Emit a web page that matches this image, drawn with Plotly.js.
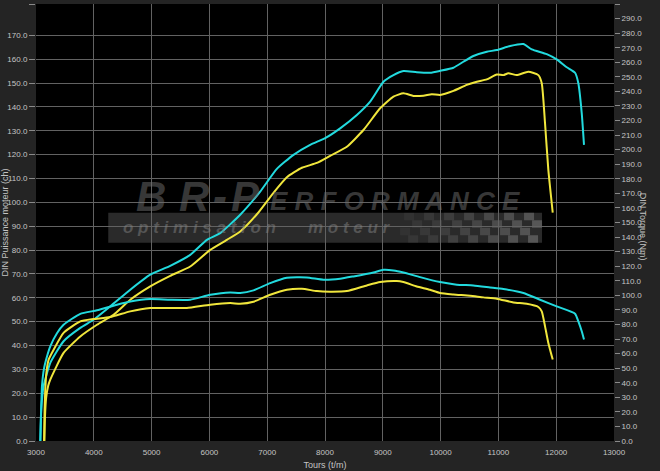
<!DOCTYPE html>
<html><head><meta charset="utf-8">
<script src="https://cdn.plot.ly/plotly-3.0.1.min.js"></script>
<style>html,body{margin:0;padding:0;background:#242424;}#chart{width:660px;height:471px;}</style>
</head><body><div id="chart"></div>
<script>
// ---- Data ----
// Power (ch), cyan run
const rpmPowerCyan = [3075,3080,3090,3110,3131,3247,3477,3766,3996,4285,4631,4977,5322,5668,5957,6187,6533,6879,7167,7455,7743,8003,8262,8551,8781,9011,9184,9357,9588,9818,9991,10222,10394,10567,10799,10972,11202,11432,11577,11836,12009,12182,12326,12383,12442,12481];
const powerCyan    = [0,6,13,19,23,32.7,41.8,47.4,50.8,56.4,63.4,69.7,73.4,78.0,84.3,87.1,94.8,104.5,114.0,119.9,124.1,126.9,131.0,136.6,142.2,150.5,153.3,155.0,154.5,154.3,155.1,156.4,158.9,161.3,163.1,163.8,165.5,166.3,164.1,162.1,159.9,156.6,154.3,149.9,137.3,124.1];
// Power (ch), yellow run
const rpmPowerYellow = [3145,3155,3175,3210,3247,3477,3766,4055,4342,4631,4977,5322,5668,6014,6303,6533,6822,7109,7340,7600,7859,8089,8378,8665,8954,9184,9357,9530,9703,9848,9991,10222,10453,10626,10799,10972,11086,11172,11317,11518,11691,11750,11807,11864,11940];
const powerYellow    = [0,10,18,23,25.7,36.9,43.8,48.7,52.9,59.2,64.8,69.2,73.1,80.1,84.3,87.8,95.0,104.0,110.5,114.5,116.5,119.5,123.3,130.3,139.4,144.3,145.7,144.6,144.7,145.3,145.0,146.7,149.2,150.5,151.5,153.6,153.3,154.1,153.3,154.7,153.3,149.9,133.1,113.6,95.7];
// Torque (Nm), cyan run
const rpmTorqueCyan = [3075,3082,3090,3104,3140,3190,3247,3363,3477,3766,4055,4401,4631,4977,5322,5668,6014,6360,6533,6763,7052,7340,7686,7973,8262,8492,8838,9011,9184,9357,9645,9991,10279,10567,10856,11086,11432,11721,12009,12326,12383,12442,12481];
const torqueCyan    = [0,10,22,38,50,58,65,74,79.8,87.3,89.7,93.6,95.8,97.5,97.0,97.0,100.4,102.0,101.6,103.4,108.4,112.1,112.3,110.7,111.4,113.0,115.7,117.5,117.1,115.7,112.5,109.1,107.3,106.8,105.4,104.3,101.6,97.0,92.4,87.4,82.1,75.3,69.6];
// Torque (Nm), yellow run
const rpmTorqueYellow = [3140,3148,3160,3180,3220,3305,3477,3766,3996,4285,4631,4977,5322,5611,6014,6360,6533,6763,7052,7340,7600,7859,8089,8378,8724,8954,9242,9357,9588,9818,9991,10222,10510,10740,10972,11259,11490,11691,11750,11807,11864,11940];
const torqueYellow    = [0,20,35,47,56,62.7,74.2,82.1,83.7,85.1,89.0,91.3,91.3,91.3,93.6,94.7,94.2,95.6,100.4,103.8,104.5,102.9,102.5,102.9,106.8,109.1,109.8,109.1,106.1,103.8,101.6,100.6,99.7,98.6,97.7,95.1,94.2,92.0,89.0,78.7,67.3,55.9];

// Axis ticks / labels
const xTicks = [3000,4000,5000,6000,7000,8000,9000,10000,11000,12000,13000];
const leftTicks = [0,10,20,30,40,50,60,70,80,90,100,110,120,130,140,150,160,170,183.1];
const rightTicks = [0,10,20,30,40,50,60,70,80,90,100,110,120,130,140,150,160,170,180,190,200,210,220,230,240,250,260,270,280,290,300];
const xTitle = 'Tours (t/m)';
const leftTitle = 'DIN Puissance moteur (ch)';
const rightTitle = 'DIN Torque (Nm)';
const wmBig = 'BR-P';
const wmRest = 'E R F O R M A N C E';
const wmSub1 = 'o p t i m i s a t i o n';
const wmSub2 = 'm o t e u r';

// ---- Styles ----
const CYAN = '#22dade';
const YELLOW = '#f0e63c';
const TXT = '#c4c4c4';
const FONT = 'Liberation Sans, Arial, sans-serif';

// plot-area pixel helpers for decorative watermark layout
const PX = p => (p - 35.7) / 578.3;
const PY = p => (441.5 - p) / 437.5;

const lineStyle = c => ({color: c, width: 2, shape: 'spline', smoothing: 0.5});
const traces = [
  {x: rpmPowerCyan, y: powerCyan, name: 'Puissance', type: 'scatter', mode: 'lines', line: lineStyle(CYAN), yaxis: 'y', hoverinfo: 'skip'},
  {x: rpmPowerYellow, y: powerYellow, name: 'Puissance', type: 'scatter', mode: 'lines', line: lineStyle(YELLOW), yaxis: 'y', hoverinfo: 'skip'},
  {x: rpmTorqueCyan, y: torqueCyan, name: 'Couple', type: 'scatter', mode: 'lines', line: lineStyle(CYAN), yaxis: 'y2', hoverinfo: 'skip'},
  {x: rpmTorqueYellow, y: torqueYellow, name: 'Couple', type: 'scatter', mode: 'lines', line: lineStyle(YELLOW), yaxis: 'y2', hoverinfo: 'skip'}
];

// watermark decorations
const shapes = [
  {type: 'rect', xref: 'paper', yref: 'paper', x0: PX(108), x1: PX(542), y0: PY(243), y1: PY(213),
   fillcolor: '#2a2a2a', line: {width: 0}, layer: 'below'}
];
for (let r = 0; r < 4; r++) {
  for (let c = 0; c < 14; c++) {
    if ((c + r) % 2) continue;
    const x0 = 404 + c * 10 - r * 2, y0 = 213 + r * 7.5;
    shapes.push({type: 'rect', xref: 'paper', yref: 'paper', x0: PX(x0), x1: PX(Math.min(x0 + 10, 542)), y0: PY(y0 + 7.5), y1: PY(y0),
      fillcolor: '#565656', opacity: 0.2 + 0.8 * c / 13, line: {width: 0}, layer: 'below'});
  }
}
const WM = 'rgba(110,110,110,0.5)';
const WM2 = 'rgba(128,128,128,0.5)';
const annotations = [
  {xref: 'paper', yref: 'paper', x: PX(650), y: PY(227), text: rightTitle, textangle: 90, showarrow: false,
   font: {family: FONT, size: 9, color: TXT}},
  {xref: 'paper', yref: 'paper', x: PX(268), xanchor: 'left', y: PY(201), text: wmRest, showarrow: false,
   font: {family: FONT, size: 26, weight: 900, style: 'italic', color: WM}},
  {xref: 'paper', yref: 'paper', x: PX(121), xanchor: 'left', y: PY(228), text: wmSub1, showarrow: false,
   font: {family: FONT, size: 17, weight: 700, style: 'italic', color: WM2}},
  {xref: 'paper', yref: 'paper', x: PX(306), xanchor: 'left', y: PY(228), text: wmSub2, showarrow: false,
   font: {family: FONT, size: 17, weight: 700, style: 'italic', color: WM2}}
];
const bigCenters = [134, 177, 211, 245];
wmBig.split('').forEach((ch, i) => annotations.push({xref: 'paper', yref: 'paper', x: PX(bigCenters[i]), y: PY(197), text: ch, showarrow: false,
  font: {family: FONT, size: 42, weight: 900, style: 'italic', color: WM}}));

const layout = {
  width: 660, height: 471,
  margin: {l: 36, r: 46, t: 4, b: 30, pad: 0},
  paper_bgcolor: '#242424', plot_bgcolor: '#000000',
  showlegend: false,
  font: {family: FONT, size: 8, color: TXT},
  xaxis: {range: [3000, 13000], tickvals: xTicks, tickformat: 'd', showgrid: true, gridcolor: '#626262', gridwidth: 1,
    zeroline: false, showline: false, ticks: '', ticklabelstandoff: 5, tickfont: {size: 8, color: TXT},
    title: {text: xTitle, font: {size: 9, color: TXT}, standoff: 5}},
  yaxis: {range: [0, 183.1], tickvals: leftTicks, tickformat: '.1f', showgrid: true, gridcolor: '#626262', gridwidth: 1,
    zeroline: false, showline: false, ticks: 'outside', ticklen: 6, tickcolor: '#8a8a8a', tickfont: {size: 8, color: TXT},
    title: {text: leftTitle, font: {size: 9, color: TXT}, standoff: 4}},
  yaxis2: {range: [0, 300], overlaying: 'y', side: 'right', tickvals: rightTicks, tickformat: '.1f', showgrid: false,
    zeroline: false, showline: false, ticks: 'outside', ticklen: 5, tickcolor: '#8a8a8a', tickfont: {size: 8, color: TXT}},
  shapes: shapes,
  annotations: annotations
};

Plotly.newPlot('chart', traces, layout, {displayModeBar: false, staticPlot: true});
</script>
</body></html>
